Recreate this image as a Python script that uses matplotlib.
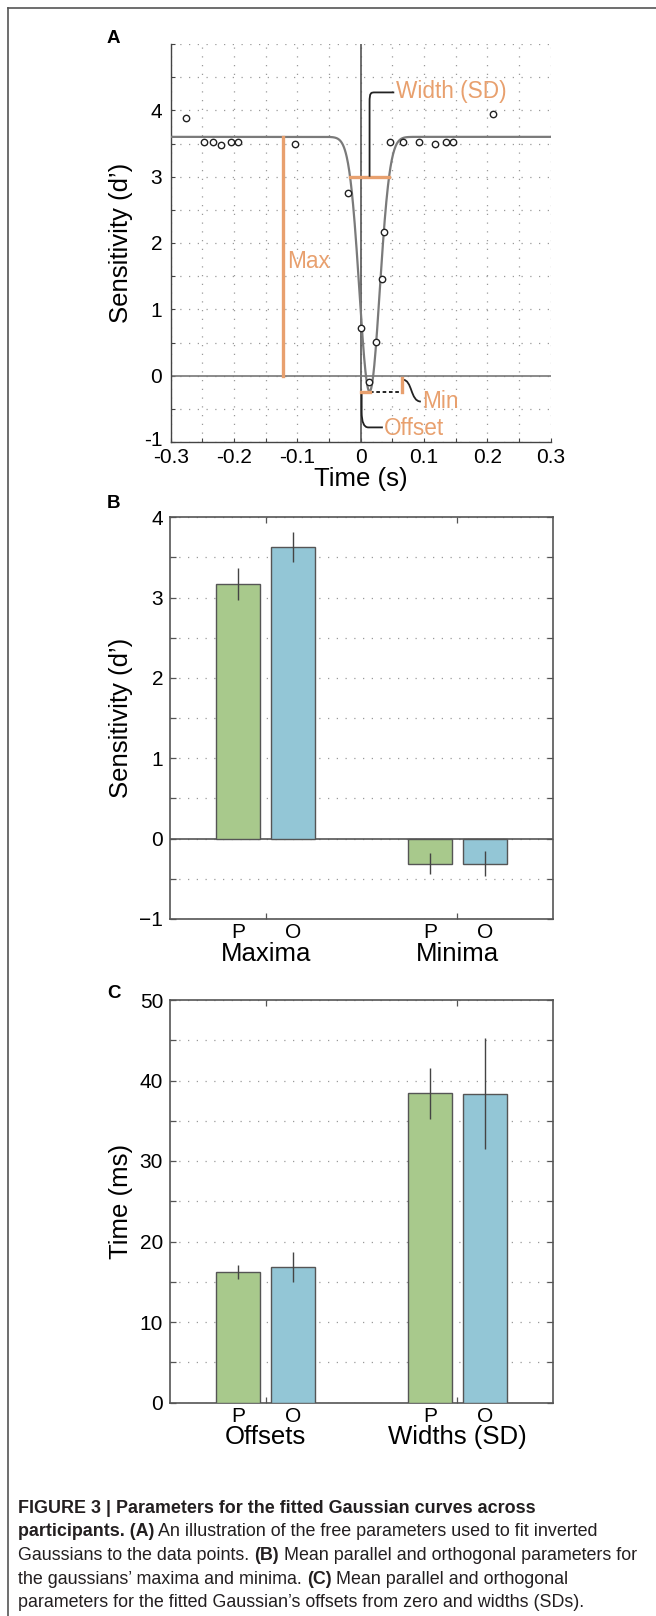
import numpy as np
import matplotlib.pyplot as plt
from matplotlib.path import Path
from matplotlib.patches import PathPatch
from matplotlib.transforms import ScaledTranslation
from matplotlib.ticker import FixedLocator, FixedFormatter, MultipleLocator

plt.rcParams['font.family'] = ['Liberation Sans', 'DejaVu Sans']

# ==================== data ====================
# panel A: single participant's sensitivity over time + fitted inverted gaussian
time_s = [-0.276, -0.247, -0.234, -0.220, -0.205, -0.194, -0.103, -0.0195, 0.0005,
          0.0126, 0.0246, 0.0336, 0.036, 0.046, 0.066, 0.0925, 0.118, 0.134, 0.145, 0.209]
dprime = [3.89, 3.53, 3.52, 3.48, 3.53, 3.53, 3.49, 2.75, 0.72,
          -0.09, 0.51, 1.46, 2.16, 3.52, 3.53, 3.52, 3.50, 3.52, 3.52, 3.94]
fit_max = 3.6
fit_min = -0.24
fit_offset = 0.014
fit_sd = 0.016
max_marker_x = -0.122
min_marker_x = 0.065
width_level = 3.0

a_xticks = [-0.3, -0.2, -0.1, 0, 0.1, 0.2, 0.3]
a_xticklabels = ['-0.3', '-0.2', '-0.1', '0', '0.1', '0.2', '0.3']
a_yticks = [-1, 0, 1, 2, 3, 4]
a_yticklabels = ['-1', '0', '1', '2', '3', '4']

# panel B: maxima / minima (d')
b_groups = ['Maxima', 'Minima']
b_par = [3.17, -0.31]
b_par_err = [0.20, 0.13]
b_orth = [3.63, -0.31]
b_orth_err = [0.19, 0.16]
b_yticks = [-1, 0, 1, 2, 3, 4]
b_yticklabels = ['\u22121', '0', '1', '2', '3', '4']

# panel C: offsets / widths (ms)
c_groups = ['Offsets', 'Widths (SD)']
c_par = [16.2, 38.4]
c_par_err = [0.9, 3.2]
c_orth = [16.85, 38.35]
c_orth_err = [1.9, 6.9]
c_yticks = [0, 10, 20, 30, 40, 50]
c_yticklabels = ['0', '10', '20', '30', '40', '50']

bar_names = ['P', 'O']

caption_lines = [
    [("FIGURE 3 | Parameters for the fitted Gaussian curves across", True)],
    [("participants. (A)", True), (" An illustration of the free parameters used to fit inverted", False)],
    [("Gaussians to the data points. ", False), ("(B)", True), (" Mean parallel and orthogonal parameters for", False)],
    [("the gaussians\u2019 maxima and minima. ", False), ("(C)", True), (" Mean parallel and orthogonal", False)],
    [("parameters for the fitted Gaussian\u2019s offsets from zero and widths (SDs).", False)],
]

# ==================== style ====================
ORANGE = '#E8A06E'
GREEN = '#A8C98C'
BLUE = '#93C6D6'
GRID_KW = dict(color='#9a9a9a', linestyle=(0, (1, 6)), linewidth=0.9)
TICK_FS = 15
LABEL_FS = 18.5
ANN_FS = 16.3

W, H = 656, 1616
fig = plt.figure(figsize=(W / 100, H / 100), dpi=100)


def ax_rect(left, top, right, bottom):
    return [left / W, 1 - bottom / H, (right - left) / W, (bottom - top) / H]


# ==================== panel A ====================
ax = fig.add_axes(ax_rect(170.7, 44, 550.7, 442))
ax.set_xlim(-0.3, 0.3)
ax.set_ylim(-1, 5)
ax.xaxis.set_major_locator(FixedLocator(a_xticks))
ax.xaxis.set_major_formatter(FixedFormatter(a_xticklabels))
ax.xaxis.set_minor_locator(MultipleLocator(0.05))
ax.yaxis.set_major_locator(FixedLocator(a_yticks))
ax.yaxis.set_major_formatter(FixedFormatter(a_yticklabels))
ax.yaxis.set_minor_locator(MultipleLocator(0.5))
ax.grid(True, which='both', **GRID_KW)
ax.set_axisbelow(True)
for s in ['top', 'right']:
    ax.spines[s].set_visible(False)
for s in ['left', 'bottom']:
    ax.spines[s].set_color('#444444')
    ax.spines[s].set_linewidth(1.0)
ax.tick_params(which='both', direction='in', length=3, width=0.8, color='#444444')
ax.tick_params(axis='x', which='major', labelsize=TICK_FS, pad=4)
ax.tick_params(axis='y', which='major', labelsize=TICK_FS, pad=6)
# lift the lowest y label a touch so it clears the first x label
t0 = ax.yaxis.get_major_ticks()[0].label1
t0.set_transform(t0.get_transform() + ScaledTranslation(0, 4 / 100, fig.dpi_scale_trans))

ax.axvline(0, color='#555555', lw=1.2, zorder=2)
ax.axhline(0, color='#777777', lw=1.2, zorder=2)

xs = np.linspace(-0.3, 0.3, 1201)
curve = fit_max - (fit_max - fit_min) * np.exp(-(xs - fit_offset) ** 2 / (2 * fit_sd ** 2))
ax.plot(xs, curve, color='#7a7a7a', lw=1.6, zorder=3)
ax.plot(time_s, dprime, 'o', mfc='white', mec='#222222', mew=1.0, ms=4.6, zorder=4)

# parameter markers
ax.plot([max_marker_x, max_marker_x], [0, fit_max], color=ORANGE, lw=2.4, zorder=3)
ax.text(max_marker_x + 0.006, 1.72, 'Max', color=ORANGE, fontsize=ANN_FS, va='center', ha='left')

half = fit_sd * np.sqrt(2 * np.log((fit_max - fit_min) / (fit_max - width_level)))
ax.plot([fit_offset - half, fit_offset + half], [width_level, width_level], color=ORANGE, lw=2.4, zorder=5)
p = Path([(fit_offset, width_level), (fit_offset, 4.12), (fit_offset, 4.27), (fit_offset + 0.002, 4.27),
          (fit_offset + 0.009, 4.27), (0.053, 4.27)],
         [Path.MOVETO, Path.LINETO, Path.CURVE4, Path.CURVE4, Path.CURVE4, Path.LINETO])
ax.add_patch(PathPatch(p, fill=False, color='#222222', lw=1.3, zorder=5))
ax.text(0.056, 4.28, 'Width (SD)', color=ORANGE, fontsize=ANN_FS, va='center', ha='left')

ax.plot([fit_offset, min_marker_x], [fit_min, fit_min], color='#111111', lw=1.3, ls=(0, (2, 1.5)), zorder=5)
ax.plot([0, fit_offset], [fit_min, fit_min], color=ORANGE, lw=2.4, zorder=6)
ax.plot([min_marker_x, min_marker_x], [-0.04, fit_min], color=ORANGE, lw=2.4, zorder=6)

p = Path([(min_marker_x + 0.001, -0.06), (0.082, -0.06), (0.078, -0.39), (0.095, -0.39)],
         [Path.MOVETO, Path.CURVE4, Path.CURVE4, Path.CURVE4])
ax.add_patch(PathPatch(p, fill=False, color='#222222', lw=1.3, zorder=5))
ax.text(0.097, -0.39, 'Min', color=ORANGE, fontsize=ANN_FS, va='center', ha='left')

p = Path([(0.0015, fit_min - 0.03), (0.0015, -0.55), (0.0015, -0.78), (0.012, -0.78), (0.035, -0.78)],
         [Path.MOVETO, Path.LINETO, Path.CURVE3, Path.CURVE3, Path.LINETO])
ax.add_patch(PathPatch(p, fill=False, color='#222222', lw=1.3, zorder=5))
ax.text(0.037, -0.79, 'Offset', color=ORANGE, fontsize=ANN_FS, va='center', ha='left')

ax.set_xlabel('Time (s)', fontsize=LABEL_FS, labelpad=0)
ax.set_ylabel("Sensitivity (d\u2019)", fontsize=LABEL_FS)
ax.yaxis.set_label_coords(-0.099, 0.5)
fig.text(107 / W, 1 - 38.5 / H, 'A', fontsize=13.5, fontweight='bold', va='center', ha='left')


# ==================== bar panels ====================
def bar_panel(rect, groups, par, par_err, orth, orth_err, ylim, yticks, yticklabels, minor_step, ylabel):
    ax = fig.add_axes(rect)
    centers = np.arange(1, len(groups) + 1)
    off, bw = 0.143, 0.229
    for vals, errs, col, sgn in [(par, par_err, GREEN, -1), (orth, orth_err, BLUE, 1)]:
        ax.bar(centers + sgn * off, vals, width=bw, color=col, edgecolor='#555555', lw=1.0, zorder=3)
        ax.errorbar(centers + sgn * off, vals, yerr=errs, fmt='none', ecolor='#444444',
                    elinewidth=1.0, capsize=0, zorder=4)
    ax.set_xlim(0.5, len(groups) + 0.5)
    ax.set_ylim(*ylim)
    ax.yaxis.set_major_locator(FixedLocator(yticks))
    ax.yaxis.set_major_formatter(FixedFormatter(yticklabels))
    ax.yaxis.set_minor_locator(MultipleLocator(minor_step))
    ax.yaxis.grid(True, which='both', **GRID_KW)
    ax.set_axisbelow(True)
    ax.xaxis.set_major_locator(FixedLocator(centers))
    ax.xaxis.set_major_formatter(FixedFormatter(groups))
    bar_pos = np.sort(np.concatenate([centers - off, centers + off]))
    ax.xaxis.set_minor_locator(FixedLocator(bar_pos))
    ax.xaxis.set_minor_formatter(FixedFormatter(bar_names * len(groups)))
    for s in ax.spines.values():
        s.set_color('#555555')
        s.set_linewidth(1.2)
    ax.tick_params(which='both', direction='in', top=True, right=True, length=4, width=0.9, color='#555555')
    ax.tick_params(axis='x', which='minor', length=0, labelsize=TICK_FS, pad=3)
    ax.tick_params(axis='x', which='major', labelsize=LABEL_FS, pad=16.5)
    ax.tick_params(axis='y', which='major', labelsize=TICK_FS, pad=5)
    ax.set_ylabel(ylabel, fontsize=LABEL_FS)
    ax.yaxis.set_label_coords(-0.0965, 0.5)
    return ax


axb = bar_panel(ax_rect(170, 517.3, 553.3, 919), b_groups, b_par, b_par_err, b_orth, b_orth_err,
                (-1, 4), b_yticks, b_yticklabels, 0.5, "Sensitivity (d\u2019)")
axb.axhline(0, color='#555555', lw=1.2, zorder=2)
fig.text(107 / W, 1 - 503 / H, 'B', fontsize=13.5, fontweight='bold', va='center', ha='left')

axc = bar_panel(ax_rect(170, 1000, 553.3, 1402.5), c_groups, c_par, c_par_err, c_orth, c_orth_err,
                (0, 50), c_yticks, c_yticklabels, 5, 'Time (ms)')
fig.text(107 / W, 1 - 993 / H, 'C', fontsize=13.5, fontweight='bold', va='center', ha='left')

# ==================== frame + caption ====================
fig.add_artist(plt.Line2D([7.5 / W, 7.5 / W], [0, 1 - 7.5 / H], color='#555555', lw=1.2))
fig.add_artist(plt.Line2D([7.5 / W, 1], [1 - 7.5 / H, 1 - 7.5 / H], color='#555555', lw=1.2))

renderer = fig.canvas.get_renderer()


def run_width(line, size):
    total = 0
    for txt, bold in line:
        t = fig.text(0, 0, txt, fontsize=size, fontweight='bold' if bold else 'normal')
        total += t.get_window_extent(renderer).width
        t.remove()
    return total


# the original caption is set in a condensed face; size the regular face so line 3 spans the same width
cap_size = 13.3 * 618 / run_width(caption_lines[2], 13.3)
baselines = [1513, 1536.5, 1560, 1583.5, 1607]
for line, yb in zip(caption_lines, baselines):
    x = 18
    for txt, bold in line:
        t = fig.text(x / W, 1 - yb / H, txt, fontsize=cap_size,
                     fontweight='bold' if bold else 'normal', color='#231F20', va='baseline', ha='left')
        x += t.get_window_extent(renderer).width

fig.savefig('out.png', dpi=100)
